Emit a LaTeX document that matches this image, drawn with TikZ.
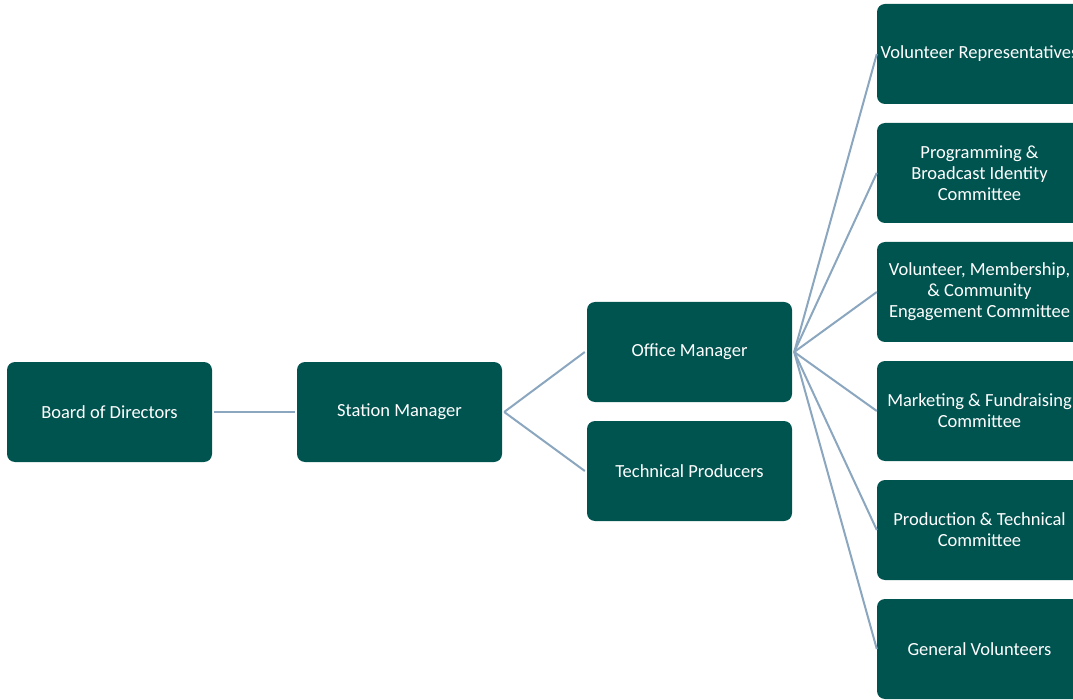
\documentclass[tikz,border=0pt]{standalone}
\usepackage{fontspec}
\setmainfont{Carlito}
\definecolor{boxteal}{HTML}{005450}
\definecolor{linkblue}{HTML}{8BA6BF}
\begin{document}
\begin{tikzpicture}[x=1pt,y=-1pt,
  orgbox/.style={fill=boxteal, rounded corners=8pt, minimum width=205pt, minimum height=100pt,
    text=white, align=center, font=\fontsize{18.5}{21}\selectfont, inner sep=0pt},
  link/.style={draw=linkblue, line width=2pt}]
\useasboundingbox (0,0) rectangle (1073,700);
\begin{scope}
\clip (0,0) rectangle (1073,700);
\node[orgbox] (board) at (109.5,412) {Board of Directors};
\node[orgbox] (station) at (399.5,412) {Station Manager};
\node[orgbox] (office) at (689.5,352) {Office Manager};
\node[orgbox] (tech) at (689.5,471) {Technical Producers};
\node[orgbox] (volrep) at (979.5,54) {Volunteer Representatives};
\node[orgbox] (prog) at (979.5,173) {Programming \&\\Broadcast Identity\\Committee};
\node[orgbox] (member) at (979.5,292) {Volunteer, Membership,\\\& Community\\Engagement Committee};
\node[orgbox] (market) at (979.5,411) {Marketing \& Fundraising\\Committee};
\node[orgbox] (prod) at (979.5,530) {Production \& Technical\\Committee};
\node[orgbox] (general) at (979.5,649) {General Volunteers};

\draw[link] ([xshift=2pt]board.east) -- ([xshift=-2pt]station.west);
\coordinate (sm) at ([xshift=2pt]station.east);
\draw[link] (sm) -- ([xshift=-2pt]office.west);
\draw[link] (sm) -- ([xshift=-2pt]tech.west);
\coordinate (om) at ([xshift=2pt]office.east);
\foreach \t in {volrep,prog,member,market,prod,general}
  \draw[link] (om) -- (\t.west);
\end{scope}
\end{tikzpicture}
\end{document}
